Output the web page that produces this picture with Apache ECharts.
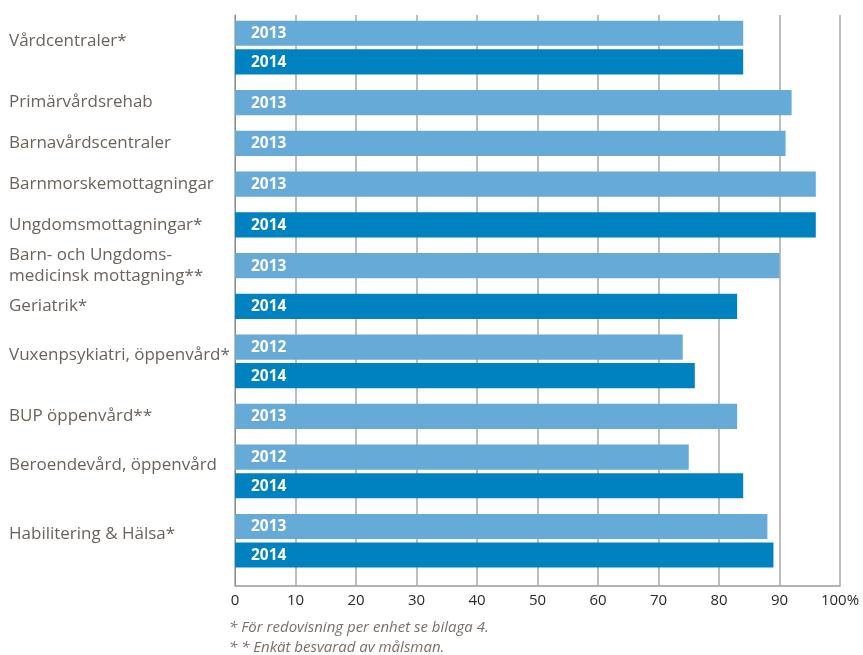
<!DOCTYPE html>
<html>
<head>
<meta charset="utf-8">
<script src="https://cdn.jsdelivr.net/npm/echarts@6/dist/echarts.min.js"></script>
<style>html,body{margin:0;padding:0;background:#fff}#c{width:863px;height:655px}</style>
</head>
<body>
<div id="c"></div>
<script>
// ---- data ----
var categories = [
  'Vårdcentraler*',
  'Primärvårdsrehab',
  'Barnavårdscentraler',
  'Barnmorskemottagningar',
  'Ungdomsmottagningar*',
  'Barn- och Ungdoms-\nmedicinsk mottagning**',
  'Geriatrik*',
  'Vuxenpsykiatri, öppenvård*',
  'BUP öppenvård**',
  'Beroendevård, öppenvård',
  'Habilitering & Hälsa*'
];
var years = [
  [2013, 2014],
  [2013],
  [2013],
  [2013],
  [2014],
  [2013],
  [2014],
  [2012, 2014],
  [2013],
  [2012, 2014],
  [2013, 2014]
];
var values = [
  [84, 84],
  [92],
  [91],
  [96],
  [96],
  [90],
  [83],
  [74, 76],
  [83],
  [75, 84],
  [88, 89]
];
var xTicks = ['0','10','20','30','40','50','60','70','80','90','100%'];
var footnotes = ['* För redovisning per enhet se bilaga 4.', '* * Enkät besvarad av målsman.'];

// ---- layout (computed) ----
var bars = [];   // [value, rowPos, year]
var labels = []; // [0, rowPos, catIndex]
var pos = 0;
categories.forEach(function (c, i) {
  var first = pos;
  years[i].forEach(function (y, j) {
    if (j > 0) pos += 7;
    bars.push([values[i][j], pos, y]);
  });
  var lp = years[i].length > 1 ? (first + pos) / 2 - 1.5 : first;
  labels.push([0, lp, i]);
  pos += 10;
});

var FONT = '"Open Sans", "Noto Sans", sans-serif';
var chart = echarts.init(document.getElementById('c'), null, {renderer: 'canvas'});
chart.setOption({
  animation: false,
  grid: {left: 235, right: 23, top: 15, bottom: 69.5, containLabel: false},
  xAxis: {
    type: 'value', min: 0, max: 100, interval: 10,
    axisLine: {show: true, onZero: false, lineStyle: {color: '#9a9a9a', width: 1.5}},
    axisTick: {show: false},
    splitLine: {show: true, lineStyle: {color: '#a8a8a8', width: 1.5}},
    axisLabel: {
      margin: 8, color: '#2a2a2a', fontSize: 15, fontFamily: FONT,
      formatter: function (v) { return xTicks[Math.round(v / 10)]; }
    }
  },
  yAxis: {
    type: 'value', min: -4.5, max: 135.5, inverse: true,
    axisLine: {show: true, onZero: false, lineStyle: {color: '#8a8a8a', width: 1}},
    axisTick: {show: false}, axisLabel: {show: false}, splitLine: {show: false}
  },
  series: [
    {
      type: 'custom', clip: false,
      data: bars,
      renderItem: function (params, api) {
        var v = api.value(0), p = api.value(1), yr = api.value(2);
        var start = api.coord([0, p]);
        var end = api.coord([v, p]);
        var h = api.size([0, 6.15])[1];
        var col = yr === 2014 ? '#0082c1' : '#66aad7';
        return {
          type: 'group',
          children: [
            {type: 'rect', shape: {x: start[0], y: start[1] - h / 2, width: end[0] - start[0], height: h},
             style: {fill: col}},
            {type: 'text', x: start[0] + 16, y: start[1] + 0.5,
             style: {text: String(yr), fill: '#ffffff', font: 'bold 15.5px ' + FONT,
                     align: 'left', verticalAlign: 'middle'}}
          ]
        };
      }
    },
    {
      type: 'custom', clip: false,
      data: labels,
      renderItem: function (params, api) {
        var p = api.value(1), i = api.value(2);
        var c = api.coord([0, p]);
        return {
          type: 'text', x: 9, y: c[1],
          style: {text: categories[i], fill: '#6b635b', font: '17px ' + FONT,
                  align: 'left', verticalAlign: 'middle', lineHeight: 21}
        };
      }
    }
  ],
  graphic: [
    {type: 'text', left: 229, top: 620,
     style: {text: footnotes[0], fill: '#7a7068', font: 'italic 15px ' + FONT}},
    {type: 'text', left: 229, top: 640,
     style: {text: footnotes[1], fill: '#7a7068', font: 'italic 15px ' + FONT}}
  ]
});
</script>
</body>
</html>
